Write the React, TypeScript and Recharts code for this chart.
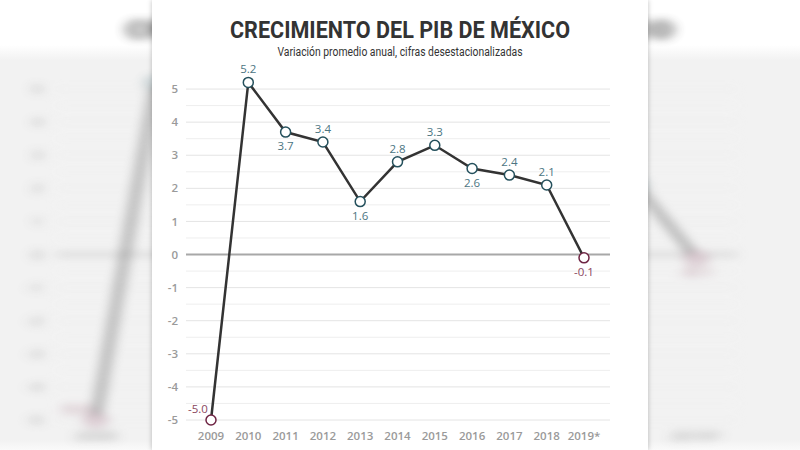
import React from 'react';
import { LineChart, Line, XAxis, YAxis, ReferenceLine, LabelList } from 'recharts';

const years = ['2009', '2010', '2011', '2012', '2013', '2014', '2015', '2016', '2017', '2018', '2019*'];
const growth = [-5.0, 5.2, 3.7, 3.4, 1.6, 2.8, 3.3, 2.6, 2.4, 2.1, -0.1];
const yTicks = [-5, -4, -3, -2, -1, 0, 1, 2, 3, 4, 5];
const gridLevels = [-5, -4.5, -4, -3.5, -3, -2.5, -2, -1.5, -1, -0.5, 0.5, 1, 1.5, 2, 2.5, 3, 3.5, 4, 4.5, 5];

const TITLE = 'CRECIMIENTO DEL PIB DE MÉXICO';
const SUBTITLE = 'Variación promedio anual, cifras desestacionalizadas';

const data = years.map((year, i) => ({ year, value: growth[i] }));

// where each value label sits relative to its point
const labelsBelow = new Set(['2011', '2013', '2016', '2019*']);
const labelsLeft = new Set(['2009']);

const FONT = '"Open Sans", "Noto Sans", sans-serif';
const TITLE_FONT = 'Roboto, "Open Sans", sans-serif';
const POS_STROKE = '#24505c';
const NEG_STROKE = '#6e2443';
const POS_TEXT = '#4c7582';
const NEG_TEXT = '#8a4760';
const TICK = { fill: '#9a9a9a', fontSize: 11.5, fontFamily: FONT, fontWeight: 600 };

function Dot(props: any) {
  const { cx, cy, payload } = props;
  if (cx == null || cy == null) return null;
  const neg = payload.value < 0;
  return (
    <circle cx={cx} cy={cy} r={5} fill="#fff" stroke={neg ? NEG_STROKE : POS_STROKE} strokeWidth={1.5} />
  );
}

// in the stretched backdrop only the first and last points stick out past the panel
const edgeOnly = (i: number) => i === 0 || i === years.length - 1;

function ValueLabel(props: any) {
  const { x, y, value, index, backdrop } = props;
  if (backdrop && !edgeOnly(index)) return null;
  const year = years[index];
  const neg = value < 0;
  let dx = 0;
  let dy = -13;
  if (labelsBelow.has(year)) dy = 14;
  if (labelsLeft.has(year)) {
    dx = -13;
    dy = -11;
  }
  return (
    <text x={x + dx} y={y + dy} dy="0.35em" textAnchor="middle" fontSize={11.5} fontFamily={FONT} fill={neg ? NEG_TEXT : POS_TEXT}>
      {value.toFixed(1)}
    </text>
  );
}

function YearTick(props: any) {
  const { x, y, payload, index, backdrop } = props;
  if (backdrop && !edgeOnly(index)) return null;
  return (
    <text x={x} y={y} dy="0.71em" textAnchor="middle" {...TICK}>
      {payload.value}
    </text>
  );
}

function Heading({ backdrop }: { backdrop: boolean }) {
  const titleProps = { fontSize: 24, fontWeight: 700, fontFamily: TITLE_FONT, fill: '#333', lengthAdjust: 'spacingAndGlyphs' as const };
  if (backdrop) {
    // only the ends of the stretched title show beside the panel
    return (
      <>
        <text x={78} y={38} textAnchor="start" textLength={38} {...titleProps}>
          {TITLE.slice(0, 3)}
        </text>
        <text x={418} y={38} textAnchor="end" textLength={36} {...titleProps}>
          {TITLE.slice(-3)}
        </text>
      </>
    );
  }
  return (
    <>
      <text x={248} y={38} textAnchor="middle" textLength={340} {...titleProps}>
        {TITLE}
      </text>
      <text
        x={248}
        y={55.5}
        textAnchor="middle"
        fontSize={12}
        fontFamily={TITLE_FONT}
        fill="#333"
        textLength={245}
        lengthAdjust="spacingAndGlyphs"
      >
        {SUBTITLE}
      </text>
    </>
  );
}

function GdpChart({ backdrop = false }: { backdrop?: boolean }) {
  return (
    <div style={{ position: 'relative', width: 496, height: 450 }}>
      <svg width={496} height={90} style={{ position: 'absolute', left: 0, top: 0 }}>
        <Heading backdrop={backdrop} />
      </svg>
      <div style={{ position: 'absolute', left: 0, top: 0 }}>
        <LineChart width={496} height={450} data={data} margin={{ top: 72.5, right: 38, bottom: 0, left: 0 }}>
          <XAxis
            dataKey="year"
            padding={{ left: 25, right: 26 }}
            axisLine={false}
            tickLine={false}
            height={30}
            tick={<YearTick backdrop={backdrop} />}
            tickMargin={6}
            interval={0}
          />
          <YAxis
            type="number"
            domain={[-5, 5.5]}
            ticks={yTicks}
            width={34}
            axisLine={false}
            tickLine={false}
            tick={TICK}
          />
          {gridLevels.map((g) => (
            <ReferenceLine key={g} y={g} stroke={Number.isInteger(g) ? '#e4e4e4' : '#eeeeee'} strokeWidth={1} />
          ))}
          <ReferenceLine y={0} stroke="#a8a8a8" strokeWidth={2} />
          <Line
            type="linear"
            dataKey="value"
            stroke="#333"
            strokeWidth={2.5}
            dot={<Dot />}
            activeDot={false}
            isAnimationActive={false}
          >
            <LabelList dataKey="value" content={<ValueLabel backdrop={backdrop} />} />
          </Line>
        </LineChart>
      </div>
    </div>
  );
}

export default function App() {
  return (
    <div style={{ position: 'absolute', left: 0, top: 0, width: 800, height: 450, overflow: 'hidden', background: '#fff' }}>
      {/* blurred, stretched backdrop */}
      <div
        style={{
          position: 'absolute',
          left: 0,
          top: 0,
          width: 800,
          height: 450,
          background: 'linear-gradient(#fff 0px, #fff 45px, #f2f2f2 60px, #f2f2f2 440px, #fafafa 450px)',
        }}
      />
      <div
        style={{
          position: 'absolute',
          left: 152,
          top: 0,
          width: 496,
          height: 450,
          transform: 'scaleX(1.61)',
          transformOrigin: '248px 225px',
          filter: 'blur(4px)',
          opacity: 0.85,
        }}
      >
        <GdpChart backdrop />
      </div>
      <div
        style={{
          position: 'absolute',
          left: 152,
          top: 0,
          width: 496,
          height: 450,
          background: '#fff',
          boxShadow: '0 0 5px rgba(0,0,0,0.25)',
        }}
      >
        <GdpChart />
      </div>
    </div>
  );
}
